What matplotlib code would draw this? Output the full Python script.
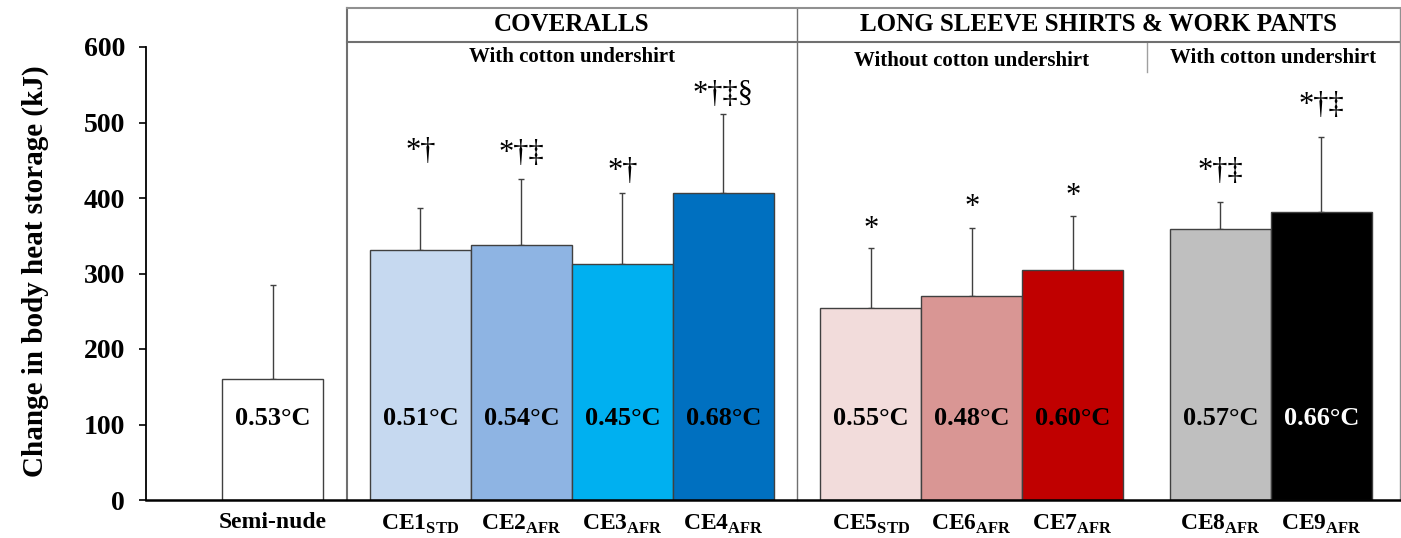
import numpy as np
import matplotlib
matplotlib.use("Agg")
import matplotlib.pyplot as plt

plt.rcParams['font.family'] = ['Liberation Serif', 'DejaVu Serif']
plt.rcParams['mathtext.fontset'] = 'custom'
plt.rcParams['mathtext.rm'] = 'Liberation Serif:bold'
plt.rcParams['mathtext.bf'] = 'Liberation Serif:bold'

# ------------------------------------------------------------
# Datos
conditions = ["Semi-nude", r"$\mathbf{CE1}_{\mathbf{STD}}$", r"$\mathbf{CE2}_{\mathbf{AFR}}$",
              r"$\mathbf{CE3}_{\mathbf{AFR}}$", r"$\mathbf{CE4}_{\mathbf{AFR}}$",
              r"$\mathbf{CE5}_{\mathbf{STD}}$", r"$\mathbf{CE6}_{\mathbf{AFR}}$",
              r"$\mathbf{CE7}_{\mathbf{AFR}}$", r"$\mathbf{CE8}_{\mathbf{AFR}}$",
              r"$\mathbf{CE9}_{\mathbf{AFR}}$"]
heat_storage = [160, 331, 338, 313, 407, 254, 270, 305, 359, 381]
heat_sd = [125, 56, 87, 94, 104, 80, 90, 71, 36, 100]
core_temp = ["0.53", "0.51", "0.54", "0.45", "0.68", "0.55", "0.48", "0.60", "0.57", "0.66"]
sig_marks = ["", "*†", "*†‡", "*†", "*†‡§", "*", "*", "*", "*†‡", "*†‡"]
sig_height = [0, 462, 459, 435, 537, 358, 387, 402, 435, 523]
group_sizes = [1, 4, 3, 2]

bar_colors = ["#FFFFFF", "#C6D9F0", "#8EB4E3", "#00B0F0", "#0070C0",
              "#F2DCDB", "#D99694", "#C00000", "#BFBFBF", "#000000"]
label_colors = ["black"] * 9 + ["white"]

# Posiciones de las barras: grupos contiguos separados por un hueco
gap = 0.46
x = []
pos = 1.257
for n in group_sizes:
    for k in range(n):
        x.append(pos + k)
    pos += n + gap
x = np.array(x)

fig = plt.figure(figsize=(14.01, 5.38), dpi=100)
ax = fig.add_axes([146 / 1401, 1 - 500 / 538, (1400 - 146) / 1401, 453 / 538])

ax.bar(x, heat_storage, width=1.0, color=bar_colors, edgecolor="#404040", linewidth=1.0, zorder=2)
ax.errorbar(x, heat_storage, yerr=[np.zeros(len(heat_sd)), heat_sd], fmt="none",
            ecolor="#404040", elinewidth=1.0, capsize=2.5, capthick=1.0, zorder=1)

# Temperatura central sobre cada barra
for xi, t, c in zip(x, core_temp, label_colors):
    ax.text(xi, 108, t + "°C", ha="center", va="center", fontsize=19,
            fontweight="bold", color=c, zorder=3)

# Marcas de significancia
for xi, s, h in zip(x, sig_marks, sig_height):
    if s:
        ax.text(xi, h, s, ha="center", va="center", fontsize=22, color="black")

ax.set_xlim(0, (1400 - 146) / 101)
ax.set_ylim(0, 600)
ax.set_yticks(range(0, 601, 100))
ax.tick_params(axis="y", length=5, width=1.2, labelsize=20, pad=10)
for lab in ax.get_yticklabels():
    lab.set_fontweight("bold")
ax.set_xticks(x)
ax.set_xticklabels(conditions, fontsize=17, fontweight="bold")
ax.tick_params(axis="x", length=0, pad=9)
ax.set_ylabel("Change in body heat storage (kJ)", fontsize=21, fontweight="bold")
ax.yaxis.set_label_coords(-(146 - 49) / 1254, 0.505)

for side in ["top", "right"]:
    ax.spines[side].set_visible(False)
ax.spines["left"].set_linewidth(1.3)
ax.spines["bottom"].set_linewidth(1.8)

# Marco de los grupos de ropa
edges = []
start = 0
for n in group_sizes[:-1]:
    end = start + n
    edges.append((x[end - 1] + 0.5 + x[end] - 0.5) / 2)
    start = end
x_right = ax.get_xlim()[1]
frame_col = "#707070"
top_y, head_y, sub_y = 652, 607, 567
ax.plot([edges[0], edges[0]], [0, top_y], color=frame_col, lw=1.5, clip_on=False)
ax.plot([edges[1], edges[1]], [0, top_y], color=frame_col, lw=1.0, clip_on=False)
ax.plot([edges[2], edges[2]], [sub_y, head_y], color="#A0A0A0", lw=1.0, clip_on=False)
ax.plot([edges[0], x_right], [top_y, top_y], color="#909090", lw=1.5, clip_on=False)
ax.plot([edges[0], x_right], [head_y, head_y], color=frame_col, lw=1.5, clip_on=False)
ax.plot([x_right, x_right], [0, top_y], color="#909090", lw=1.0, clip_on=False)

head_mid = (top_y + head_y) / 2
ax.text((edges[0] + edges[1]) / 2, head_mid, "COVERALLS", ha="center", va="center",
        fontsize=18, fontweight="bold")
ax.text((edges[1] + x_right) / 2, head_mid, "LONG SLEEVE SHIRTS & WORK PANTS", ha="center",
        va="center", fontsize=18, fontweight="bold")
ax.text((edges[0] + edges[1]) / 2, 587, "With cotton undershirt", ha="center", va="center",
        fontsize=15, fontweight="bold")
ax.text((edges[1] + edges[2]) / 2, 582, "Without cotton undershirt", ha="center", va="center",
        fontsize=15, fontweight="bold")
ax.text((edges[2] + x_right) / 2, 585, "With cotton undershirt", ha="center", va="center",
        fontsize=15, fontweight="bold")

fig.savefig("out.png", dpi=100)
